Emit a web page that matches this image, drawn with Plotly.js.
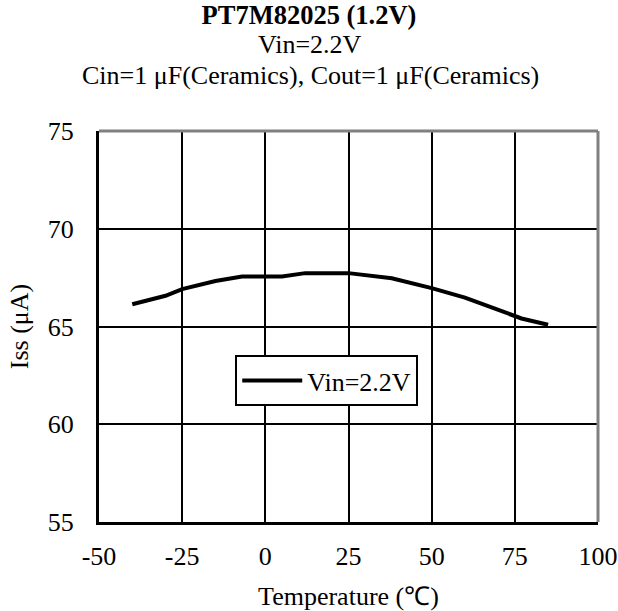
<!DOCTYPE html>
<html>
<head>
<meta charset="utf-8">
<script src="https://cdn.plot.ly/plotly-3.0.1.min.js"></script>
<style>html,body{margin:0;padding:0;background:#fff;}#chart{width:618px;height:611px;}</style>
</head>
<body>
<div id="chart"></div>
<script>
// Data
const temperature = [-40, -30, -25, -15, -7, 5, 12, 25, 38, 50, 60, 75, 77, 85];
const issValues = [66.14, 66.57, 66.91, 67.33, 67.56, 67.56, 67.73, 67.73, 67.47, 66.96, 66.48, 65.58, 65.41, 65.09];
const seriesName = 'Vin=2.2V';
const titleLines = ['PT7M82025 (1.2V)', 'Vin=2.2V', 'Cin=1 μF(Ceramics), Cout=1 μF(Ceramics)'];
const xTicks = [-50, -25, 0, 25, 50, 75, 100];
const yTicks = [55, 60, 65, 70, 75];

const FONT = 'Liberation Serif, Times New Roman, serif';

const trace = {
  x: temperature,
  y: issValues,
  type: 'scatter',
  mode: 'lines',
  name: seriesName,
  line: {color: '#000', width: 4}
};

const layout = {
  width: 618,
  height: 611,
  margin: {l: 99, r: 20, t: 131, b: 89, pad: 0},
  paper_bgcolor: '#fff',
  plot_bgcolor: '#fff',
  font: {family: FONT, size: 26, color: '#000'},
  title: {
    text: '<b>' + titleLines[0] + '</b>',
    xref: 'container', yref: 'container',
    x: 0.5, y: 1 - 15 / 611, xanchor: 'center', yanchor: 'middle',
    font: {family: FONT, size: 26.5, color: '#000'}
  },
  annotations: [
    {text: titleLines[1], xref: 'paper', yref: 'paper', x: 0.423, y: 1.2215,
     xanchor: 'center', yanchor: 'middle', showarrow: false,
     font: {family: FONT, size: 26, color: '#000'}},
    {text: titleLines[2], xref: 'paper', yref: 'paper', x: 0.423, y: 1.1408,
     xanchor: 'center', yanchor: 'middle', showarrow: false,
     font: {family: FONT, size: 26, color: '#000'}}
  ],
  xaxis: {
    range: [-50, 100],
    tickvals: xTicks,
    ticktext: xTicks.map(String),
    showgrid: true, gridcolor: '#000', gridwidth: 2,
    zeroline: false,
    showline: true, linecolor: '#000', linewidth: 3, mirror: false,
    ticks: '', ticklabelstandoff: 9,
    tickfont: {family: FONT, size: 26, color: '#000'},
    title: {text: 'Temperature (℃)', standoff: 17, font: {family: FONT, size: 26, color: '#000'}},
    fixedrange: true
  },
  yaxis: {
    range: [55, 75],
    tickvals: yTicks,
    ticktext: yTicks.map(String),
    showgrid: true, gridcolor: '#000', gridwidth: 2,
    zeroline: false,
    showline: true, linecolor: '#000', linewidth: 3, mirror: false,
    ticks: '', ticklabelstandoff: 17,
    tickfont: {family: FONT, size: 26, color: '#000'},
    title: {text: 'Iss (μA)', standoff: 12, font: {family: FONT, size: 26, color: '#000'}},
    fixedrange: true
  },
  shapes: [
    {type: 'line', xref: 'paper', yref: 'paper', x0: 0, x1: 1, y0: 1, y1: 1, line: {color: '#808080', width: 3}},
    {type: 'line', xref: 'paper', yref: 'paper', x0: 1, x1: 1, y0: 0, y1: 1, line: {color: '#808080', width: 3}}
  ],
  showlegend: true,
  legend: {
    x: 0.273, y: 0.427, xanchor: 'left', yanchor: 'top',
    bgcolor: '#fff', bordercolor: '#000', borderwidth: 2,
    font: {family: FONT, size: 26, color: '#000'},
    itemwidth: 60
  }
};

Plotly.newPlot('chart', [trace], layout, {displayModeBar: false, staticPlot: true});
</script>
</body>
</html>
